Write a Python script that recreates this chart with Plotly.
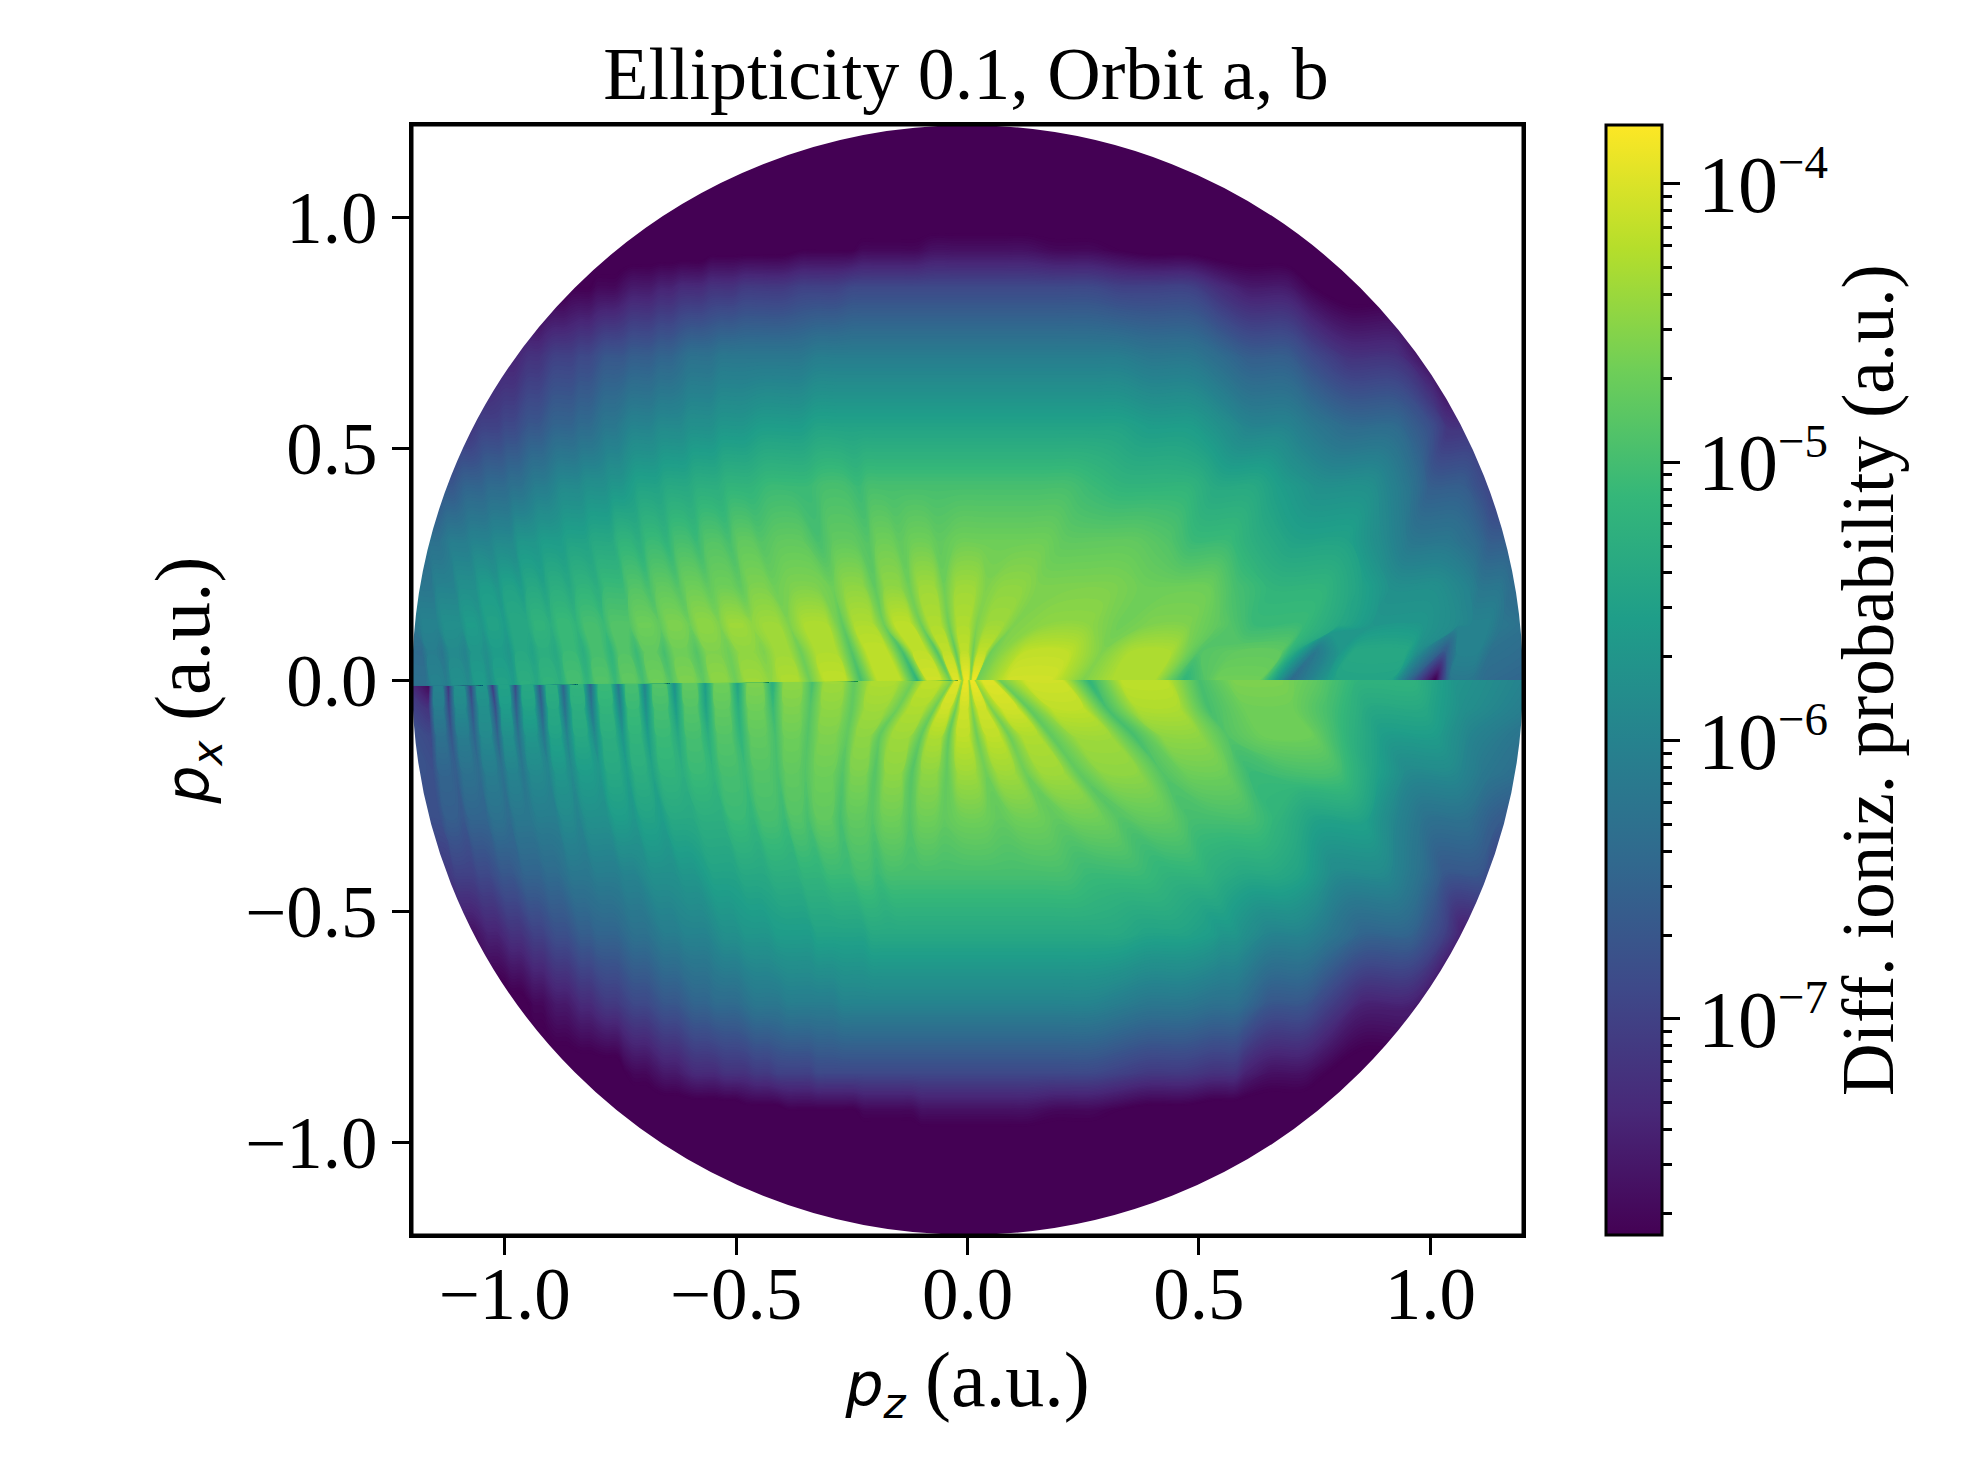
import plotly.graph_objects as go

# The grid follows the interference fringes: every entry of a *_DIPS table is
# one dark fringe, with its pz at each px level in *_DIP_LEVELS. Above those levels it stays put.
UP_LEVELS = [0.0, 0.06, 0.12, 0.2, 0.3, 0.42, 0.55, 0.7, 0.85, 0.93, 1.0, 1.3]
UP_DIP_LEVELS = 7
UP_DIPS = [
    [-1.17, -1.18, -1.19, -1.20, -1.21, -1.22, -1.23],
    [-1.125, -1.135, -1.145, -1.16, -1.175, -1.19, -1.2],
    [-1.077, -1.085, -1.095, -1.11, -1.13, -1.145, -1.16],
    [-1.03, -1.04, -1.05, -1.065, -1.085, -1.10, -1.115],
    [-.98, -.99, -1.0, -1.015, -1.035, -1.05, -1.065],
    [-.93, -.94, -.95, -.965, -.985, -1.0, -1.015],
    [-.878, -.89, -.9, -.915, -.935, -.95, -.965],
    [-.82, -.83, -.845, -.86, -.88, -.895, -.91],
    [-.76, -.77, -.785, -.80, -.825, -.84, -.855],
    [-.70, -.715, -.73, -.745, -.77, -.785, -.80],
    [-.64, -.655, -.665, -.69, -.71, -.73, -.745],
    [-.57, -.585, -.60, -.625, -.65, -.67, -.685],
    [-.50, -.515, -.535, -.56, -.585, -.605, -.62],
    [-.425, -.44, -.465, -.49, -.515, -.54, -.555],
    [-.34, -.36, -.385, -.415, -.445, -.47, -.485],
    [-.23, -.25, -.27, -.29, -.32, -.345, -.36],
    [-.108, -.14, -.18, -.2, -.215, -.235, -.25],
    [-.037, -.065, -.1, -.125, -.145, -.165, -.18],
    [-.012, -.025, -.04, -.05, -.06, -.07, -.08],
    [.007, .012, .02, .04, .07, .1, .13],
    [.02, .05, .1, .15, .21, .27, .33],
    [.25, .29, .33, .38, .43, .48, .55],
    [.47, .50, .54, .58, .62, .68, .75],
    [.70, .75, .80, .85, .90, .95, 1.0],
    [1.01, 1.03, 1.06, 1.08, 1.1, 1.12, 1.14],
    [1.12, 1.13, 1.15, 1.18, 1.2, 1.22, 1.24],
]
# -10*log10(probability): left rim, then dip, ridge, dip, ridge ... last dip, right rim
UP_VALUES = [
    [63, 63,60, 61,58, 59,56, 58,55, 56,53, 54,52, 53,50, 52,49, 51,48, 50,47, 49,46, 48,45, 47,44, 45,43, 47,42, 50,42, 52,41, 47,40, 46,39, 46,39, 47,41, 46,43, 52,47, 64,55, 78,62, 64, 66],
    [63, 64,61, 62,59, 60,57, 58,56, 57,54, 55,53, 54,51, 53,50, 52,49, 51,48, 50,47, 49,46, 47,45, 46,44, 47,43, 49,42, 50,42, 49,42, 48,42, 47,42, 47,42, 46,43, 49,48, 62,54, 67,60, 63, 65],
    [63, 62,60, 60,58, 58,56, 57,55, 56,54, 54,52, 53,51, 52,50, 51,49, 49,47, 48,46, 47,45, 46,44, 45,44, 46,43, 48,43, 47,42, 47,43, 47,43, 46,44, 46,45, 47,46, 48,51, 54,57, 59,60, 62, 65],
    [64, 64,62, 62,60, 60,58, 58,56, 57,55, 56,54, 55,53, 54,52, 53,51, 51,49, 50,48, 49,47, 48,47, 48,46, 47,46, 47,45, 48,45, 47,44, 47,44, 46,45, 46,46, 47,47, 50,52, 55,58, 60,62, 64, 66],
    [66, 66,65, 64,63, 62,61, 61,60, 60,59, 59,57, 57,56, 56,55, 55,54, 54,52, 53,51, 52,50, 51,49, 50,48, 49,48, 50,48, 49,47, 48,47, 48,47, 47,47, 48,48, 49,51, 53,55, 59,62, 64,66, 67, 69],
    [70, 71,70, 70,69, 68,67, 66,65, 65,64, 64,63, 62,61, 60,59, 59,58, 58,57, 56,55, 55,54, 54,53, 53,52, 52,51, 51,50, 51,50, 50,50, 50,50, 50,50, 51,52, 52,54, 56,58, 62,66, 69,71, 72, 73],
    [75, 75,75, 74,74, 74,73, 73,72, 71,70, 70,69, 68,67, 66,65, 65,64, 63,62, 61,60, 60,59, 59,58, 58,57, 57,56, 56,55, 55,55, 55,55, 55,55, 55,55, 55,56, 58,60, 62,64, 68,72, 76,78, 79, 80],
    [79, 79,78, 78,78, 77,77, 77,76, 76,75, 74,74, 73,72, 71,70, 70,69, 68,67, 67,66, 66,65, 64,63, 63,62, 62,62, 62,61, 61,61, 61,61, 61,61, 61,61, 61,62, 64,66, 69,72, 77,80, 80,80, 80, 80],
    [80, 80,80, 80,80, 80,80, 80,80, 80,80, 80,80, 80,80, 79,79, 78,78, 77,77, 76,75, 75,74, 73,73, 72,72, 71,71, 70,70, 69,69, 69,69, 69,69, 69,69, 70,70, 73,75, 78,80, 80,80, 80,80, 80, 80],
    [80, 80,80, 80,80, 80,80, 80,80, 80,80, 80,80, 80,80, 80,80, 80,80, 80,80, 80,80, 80,80, 80,80, 79,79, 79,79, 78,78, 78,77, 77,77, 76,76, 76,77, 78,79, 80,80, 80,80, 80,80, 80,80, 80, 80],
    [80] * 53,
    [80] * 53,
]

LOW_LEVELS = [0.0, -0.06, -0.12, -0.2, -0.3, -0.42, -0.55, -0.7, -0.85, -0.93, -1.0, -1.3]
LOW_DIP_LEVELS = 7
LOW_DIPS = [
    [-1.165, -1.165, -1.16, -1.155, -1.14, -1.12, -1.10],
    [-1.122, -1.12, -1.115, -1.105, -1.09, -1.07, -1.05],
    [-1.074, -1.07, -1.065, -1.055, -1.04, -1.02, -1.0],
    [-1.027, -1.02, -1.015, -1.005, -.99, -.97, -.95],
    [-.977, -.975, -.97, -.96, -.945, -.925, -.905],
    [-.925, -.92, -.915, -.905, -.89, -.87, -.85],
    [-.874, -.87, -.865, -.855, -.84, -.82, -.80],
    [-.815, -.812, -.805, -.795, -.78, -.76, -.74],
    [-.755, -.75, -.745, -.735, -.72, -.70, -.675],
    [-.698, -.695, -.69, -.68, -.66, -.635, -.61],
    [-.634, -.63, -.625, -.615, -.595, -.57, -.545],
    [-.567, -.565, -.56, -.55, -.53, -.505, -.48],
    [-.497, -.495, -.49, -.48, -.465, -.44, -.41],
    [-.422, -.42, -.415, -.41, -.395, -.37, -.34],
    [-.335, -.34, -.345, -.35, -.345, -.32, -.29],
    [-.245, -.25, -.26, -.27, -.275, -.255, -.225],
    [-.115, -.15, -.19, -.2, -.205, -.195, -.165],
    [-.03, -.07, -.1, -.12, -.125, -.12, -.10],
    [-.01, -.025, -.04, -.045, -.05, -.05, -.045],
    [.003, .01, .02, .04, .07, .10, .13],
    [.015, .05, .09, .125, .19, .26, .33],
    [.065, .13, .18, .24, .33, .43, .53],
    [.26, .30, .36, .42, .48, .54, .6],
    [.50, .52, .56, .61, .67, .72, .78],
    [.75, .78, .82, .88, .93, .98, 1.03],
    [1.05, 1.07, 1.09, 1.12, 1.14, 1.16, 1.18],
]
LOW_VALUES = [
    [62, 77,60, 72,58, 70,57, 71,55, 69,54, 67,53, 65,52, 65,51, 62,50, 60,49, 58,48, 56,47, 55,46, 53,45, 50,44, 48,43, 47,42, 46,40, 45,39, 44,39, 44,40, 47,41, 52,42, 50,46, 48,52, 57, 62],
    [64, 72,61, 69,59, 67,58, 68,56, 66,55, 65,54, 63,53, 62,52, 60,51, 58,50, 56,49, 55,48, 53,47, 51,46, 49,45, 48,44, 47,43, 47,41, 47,41, 46,41, 46,41, 48,42, 50,43, 50,47, 50,54, 58, 63],
    [65, 69,63, 67,61, 65,59, 65,58, 63,57, 62,55, 60,54, 59,53, 57,52, 56,51, 54,50, 53,49, 52,48, 50,47, 49,46, 48,45, 48,44, 48,43, 48,42, 47,42, 47,43, 48,44, 50,45, 49,47, 52,56, 60, 65],
    [66, 68,65, 66,63, 64,61, 63,60, 62,59, 60,57, 59,56, 57,54, 56,53, 55,52, 53,51, 52,50, 51,49, 50,48, 49,47, 49,46, 49,45, 49,45, 48,44, 47,44, 47,44, 48,45, 49,47, 51,50, 55,59, 62, 66],
    [68, 68,66, 67,65, 65,63, 64,62, 62,61, 61,59, 60,58, 58,56, 57,55, 56,54, 54,53, 53,51, 52,50, 51,49, 50,48, 50,48, 49,47, 49,47, 48,47, 48,47, 48,47, 49,48, 50,50, 52,55, 60,63, 66, 68],
    [72, 71,70, 70,69, 68,67, 66,65, 65,64, 63,62, 62,61, 61,60, 59,58, 58,57, 56,55, 55,54, 54,53, 53,52, 52,51, 51,50, 51,50, 50,50, 50,50, 50,50, 51,51, 52,52, 53,54, 55,59, 63,67, 71, 73],
    [78, 77,76, 75,74, 73,72, 71,70, 69,68, 67,66, 65,65, 64,63, 62,61, 60,60, 59,58, 57,57, 56,56, 56,55, 55,55, 55,54, 54,54, 54,54, 54,54, 54,54, 54,55, 56,57, 58,60, 62,65, 70,75, 78, 79],
    [80, 80,80, 80,80, 80,79, 78,77, 76,75, 74,73, 72,71, 70,69, 68,67, 66,65, 64,64, 63,62, 62,61, 61,61, 61,60, 60,60, 60,60, 60,60, 60,60, 60,60, 61,62, 63,63, 64,67, 70,74, 80,80, 80, 80],
    [80, 80,80, 80,80, 80,80, 80,80, 80,80, 80,80, 80,80, 78,77, 76,75, 74,73, 73,72, 72,71, 70,70, 70,69, 69,69, 69,69, 69,69, 69,69, 69,69, 69,69, 70,71, 72,72, 74,76, 78,80, 80,80, 80, 80],
    [80, 80,80, 80,80, 80,80, 80,80, 80,80, 80,80, 80,80, 80,80, 80,80, 80,80, 80,80, 79,79, 79,78, 78,78, 78,78, 77,77, 77,77, 76,76, 76,76, 76,77, 78,79, 80,80, 80,80, 80,80, 80,80, 80, 80],
    [80] * 53,
    [80] * 53,
]

CB_TICKS = [1e-7, 1e-6, 1e-5, 1e-4]
CB_EXPONENTS = ['\u22127', '\u22126', '\u22125', '\u22124']
Z_MIN, Z_MAX = -7.777, -3.788
RIM = 1.3
RIDGE_SHOULDER = 0.3


def node_columns(dips_at_level):
    # a dark fringe, then two shoulders of the ridge that follows it
    out = [-RIM]
    for d0, d1 in zip(dips_at_level, dips_at_level[1:]):
        gap = d1 - d0
        out += [d0, d0 + RIDGE_SHOULDER * gap, d1 - RIDGE_SHOULDER * gap]
    return out + [dips_at_level[-1], RIM]


def node_values(row):
    out = [row[0]]
    for dip, ridge in zip(row[1:-2:2], row[2:-2:2]):
        out += [dip, ridge, ridge]
    return [-v / 10 for v in out + [row[-2], row[-1]]]


def split_line(x):
    # the seam between the two halves sags a little on the left
    return 0.0105 * min(x, 0)


def half_plane(levels, dips, values, n_dip_levels, name, seam_shift):
    xs, ys = [], []
    for k, level in enumerate(levels):
        col = node_columns([d[min(k, n_dip_levels - 1)] for d in dips])
        xs.append(col)
        ys.append([split_line(x) + seam_shift if k == 0 else level for x in col])
    assert all(len(r) == 2 * len(dips) + 1 for r in values)
    zs = [node_values(r) for r in values]
    a, b = list(range(len(xs[0]))), list(range(len(levels)))
    hidden = dict(smoothing=0, showgrid=False, showticklabels='none', startline=False, endline=False,
                  minorgridcount=0, showline=False)
    return [
        go.Carpet(a=a, b=b, x=xs, y=ys, carpet=name, aaxis=hidden, baxis=hidden),
        go.Contourcarpet(a=a, b=b, z=zs, carpet=name, colorscale='Viridis', zmin=Z_MIN, zmax=Z_MAX, autocontour=False,
                         contours=dict(start=-7.8, end=-3.75, size=0.03, coloring='fill', showlines=False),
                         line=dict(width=0), showscale=False),
    ]


# page has the browser's 8px body margin
OFF = 8
W, H = 1964, 1464
fx = lambda px: (px - OFF) / W
fy = lambda px: 1 - (px - OFF) / H
L, R, T, B = 412, 1523, 125, 1235
CL, CR = 1606, 1662

FONT = 'Liberation Serif'
MATH = "<span style=\"font-family:'DejaVu Sans';font-size:60px\"><i>%s</i><sub><i>%s</i></sub></span> (a.u.)"

fig = go.Figure()
fig.add_traces(half_plane(LOW_LEVELS, LOW_DIPS, LOW_VALUES, LOW_DIP_LEVELS, 'low', 0.003))
fig.add_traces(half_plane(UP_LEVELS, UP_DIPS, UP_VALUES, UP_DIP_LEVELS, 'up', 0.0))
# invisible, carries the colour bar and the log axis beside it
fig.add_trace(go.Heatmap(
    x=[0, 1], y=CB_TICKS[:2], z=[[Z_MIN, Z_MAX], [Z_MIN, Z_MAX]], xaxis='x2', yaxis='y2', opacity=0, hoverinfo='skip',
    zmin=Z_MIN, zmax=Z_MAX, colorscale='Viridis',
    colorbar=dict(x=fx(CL), xanchor='left', xpad=0, ypad=0, thickness=CR - CL, thicknessmode='pixels',
                  len=(B - T) / H, lenmode='fraction', y=fy(T), yanchor='top',
                  outlinewidth=3, outlinecolor='black', ticks='', showticklabels=False),
))

axis_style = dict(ticks='outside', ticklen=17, tickwidth=3, tickcolor='black', showgrid=False, zeroline=False,
                  showline=True, linewidth=3, linecolor='black', mirror=True, tickfont=dict(size=73),
                  tickvals=[-1.0, -0.5, 0.0, 0.5, 1.0], tickformat='.1f', range=[-1.2, 1.2])
cb_labels = ['10<sup><span style="font-size:47px">%s</span></sup>' % e for e in CB_EXPONENTS]
fig.update_layout(
    width=W, height=H, autosize=False, margin=dict(l=0, r=0, t=0, b=0),
    paper_bgcolor='white', plot_bgcolor='white', showlegend=False,
    font=dict(family=FONT, size=65, color='black'),
    title=dict(text='Ellipticity 0.1, Orbit a, b', x=fx(966), xanchor='center', y=fy(73), yanchor='middle',
               font=dict(family=FONT, size=74)),
    xaxis=dict(domain=[fx(L), fx(R)], ticklabelstandoff=-24, title=dict(text=MATH % ('p', 'z'), standoff=18), **axis_style),
    yaxis=dict(domain=[fy(B), fy(T)], title=dict(text=MATH % ('p', 'x'), standoff=10), **axis_style),
    xaxis2=dict(domain=[fx(CL), fx(CR)], anchor='y2', visible=False, range=[0, 1]),
    yaxis2=dict(domain=[fy(B), fy(T)], anchor='x2', side='right', type='log', range=[Z_MIN, Z_MAX],
                tickvals=CB_TICKS, ticktext=cb_labels, ticks='outside', ticklen=17, tickwidth=3, tickcolor='black',
                showgrid=False, zeroline=False, showline=False, tickfont=dict(size=80), ticklabelstandoff=2,
                minor=dict(ticks='outside', ticklen=9, tickwidth=3, tickcolor='black', showgrid=False,
                           tickvals=[m * 10.0 ** e for e in range(-8, -3) for m in range(2, 10)]),
                title=dict(text='Diff. ioniz. probability (a.u.)', standoff=12, font=dict(size=73))),
    shapes=[
        # white ring around the circle of data
        dict(type='circle', xref='x', yref='y', x0=-1.46, x1=1.46, y0=-1.46, y1=1.46,
             line=dict(color='white', width=241), layer='above'),
        dict(type='rect', xref='paper', yref='paper', x0=fx(L), x1=fx(R), y0=fy(B), y1=fy(T),
             line=dict(color='black', width=3), layer='above'),
    ],
)

fig.write_html("out.html")
